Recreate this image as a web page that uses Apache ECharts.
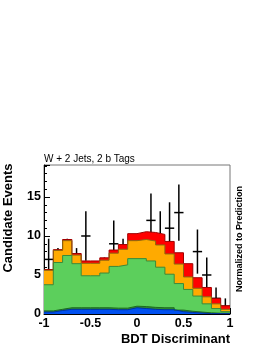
<!DOCTYPE html>
<html>
<head>
<meta charset="utf-8">
<script src="https://cdn.jsdelivr.net/npm/echarts@6/dist/echarts.min.js"></script>
<style>
html,body{margin:0;padding:0;background:#fff;}
#chart{width:270px;height:349px;}
</style>
</head>
<body>
<div id="chart"></div>
<script>
// Bin edges of the BDT discriminant histogram
const binEdges = [-1,-0.9,-0.8,-0.7,-0.6,-0.5,-0.4,-0.3,-0.2,-0.1,0,0.1,0.2,0.3,0.4,0.5,0.6,0.7,0.8,0.9,1];
const xTickLabels = ['-1','-0.5','0','0.5','1'];
const yTickLabels = ['0','5','10','15'];

// Stacked prediction components (per bin), bottom to top
const blueComp      = [0.25,0.45,0.6,0.6,0.6,0.6,0.6,0.55,0.55,0.8,0.7,0.6,0.55,0.55,0.3,0.2,0.12,0.05,0.05,0.05];
const darkGreenComp = [0.15,0.15,0.2,0.2,0.2,0.2,0.2,0.2,0.2,0.2,0.25,0.25,0.25,0.25,0.2,0.15,0.13,0.1,0.05,0.05];
const greenComp     = [3.35,6.0,6.7,5.65,4.1,4.1,4.45,5.35,5.55,6.1,6.15,5.95,5.2,4.3,3.4,2.8,2.05,1.15,0.6,0.2];
const orangeComp    = [1.85,1.55,1.9,1.1,1.6,1.6,1.65,1.7,2.0,2.3,2.45,2.55,2.85,2.6,2.5,1.6,1.0,0.9,0.6,0.3];
const redComp       = [0.1,0.1,0.15,0.2,0.3,0.3,0.3,0.4,0.6,0.9,1.0,1.1,1.35,1.6,1.45,1.7,1.35,1.2,0.7,0.45];

// Observed data and errors
const dataCounts = [7,6,7,6,10,4,5,9,7,6,7,12,10,11,13,3,8,5,2,1];
const dataErr    = [2.65,2.45,2.65,2.45,3.16,2.0,2.24,3.0,2.65,2.45,2.65,3.46,3.16,3.32,3.61,1.73,2.83,2.24,1.41,1.0];

const layers = [
  {vals: blueComp,      fill:'#0050f0', line:'#0030a0'},
  {vals: darkGreenComp, fill:'#2e8b2e', line:'#1f6a1f'},
  {vals: greenComp,     fill:'#5ccf5c', line:'#3a8a3a'},
  {vals: orangeComp,    fill:'#ffaa00', line:'#8a6a10'},
  {vals: redComp,       fill:'#ff0000', line:'#a00000'}
];
// cumulative tops
const cum = [];
let running = new Array(binEdges.length - 1).fill(0);
layers.forEach(l => {
  running = running.map((v, i) => v + l.vals[i]);
  cum.push(running.slice());
});

const stepSeries = [];
for (let k = layers.length - 1; k >= 0; k--) {
  const tops = cum[k];
  const pts = tops.map((v, i) => [binEdges[i], v]);
  pts.push([binEdges[binEdges.length - 1], tops[tops.length - 1]]);
  stepSeries.push({
    type: 'line', step: 'end', data: pts, symbol: 'none',
    xAxisIndex: 0, yAxisIndex: 0,
    lineStyle: {color: layers[k].line, width: 1},
    areaStyle: {color: layers[k].fill, opacity: 1, origin: 'start'},
    silent: true, animation: false
  });
}

const dataSeries = {
  type: 'custom', xAxisIndex: 0, yAxisIndex: 0, animation: false, silent: true,
  data: dataCounts.map((v, i) => [binEdges[i], binEdges[i + 1], v, dataErr[i]]),
  encode: {x: [0, 1], y: [2]},
  renderItem: function (params, api) {
    const lo = api.value(0), hi = api.value(1), v = api.value(2), e = api.value(3);
    const mid = (lo + hi) / 2;
    const a = api.coord([lo, v]), b = api.coord([hi, v]);
    const t = api.coord([mid, v + e]), d = api.coord([mid, Math.max(0, v - e)]);
    const st = {stroke: '#000', lineWidth: 1.5};
    return {type: 'group', children: [
      {type: 'line', shape: {x1: a[0], y1: a[1], x2: b[0], y2: b[1]}, style: st},
      {type: 'line', shape: {x1: t[0], y1: t[1], x2: d[0], y2: d[1]}, style: st}
    ]};
  }
};

const font = 'Liberation Sans, Arial, Helvetica, sans-serif';
const chart = echarts.init(document.getElementById('chart'));
chart.setOption({
  animation: false,
  backgroundColor: '#fff',
  grid: {left: 44, top: 165, right: 40, bottom: 35, show: true, borderColor: '#777', borderWidth: 1, backgroundColor: 'transparent'},
  xAxis: [
    {type: 'value', position: 'bottom', min: -1, max: 1, interval: 0.5,
     axisLine: {onZero: false, lineStyle: {color: '#000', width: 1}},
     axisTick: {inside: true, length: 6, lineStyle: {color: '#000'}},
     splitLine: {show: false},
     axisLabel: {color: '#000', fontFamily: font, fontWeight: 'bold', fontSize: 12.5, margin: 3,
       formatter: function (v) { const s = String(Math.round(v * 10) / 10); return xTickLabels.indexOf(s) >= 0 ? s : ''; }}},
    {type: 'value', position: 'bottom', min: -1, max: 1, interval: 0.1,
     axisLine: {show: false, onZero: false}, axisLabel: {show: false}, splitLine: {show: false},
     axisTick: {inside: true, length: 3, lineStyle: {color: '#000'}}}
  ],
  yAxis: [
    {type: 'value', position: 'left', min: 0, max: 19.1, interval: 5,
     axisLine: {show: true, onZero: false, lineStyle: {color: '#000', width: 1}},
     axisTick: {show: true, inside: true, length: 6, lineStyle: {color: '#000'}},
     splitLine: {show: false},
     axisLabel: {color: '#000', fontFamily: font, fontWeight: 'bold', fontSize: 12.5, margin: 3,
       formatter: function (v) { const s = String(v); return yTickLabels.indexOf(s) >= 0 ? s : ''; }}},
    {type: 'value', position: 'left', min: 0, max: 19.1, interval: 1,
     axisLine: {show: false, onZero: false}, axisLabel: {show: false}, splitLine: {show: false},
     axisTick: {show: true, inside: true, length: 3, lineStyle: {color: '#000'}}}
  ],
  series: stepSeries.concat([dataSeries]),
  graphic: [
    {type: 'text', left: 44, top: 154, style: {text: 'W + 2 Jets, 2 b Tags', fill: '#000', font: '10px ' + font}},
    {type: 'text', x: 230, y: 339, style: {text: 'BDT Discriminant', fill: '#000', font: 'bold 13px ' + font, align: 'right', verticalAlign: 'middle'}},
    {type: 'text', x: 8, y: 218, rotation: Math.PI / 2, style: {text: 'Candidate Events', fill: '#000', font: 'bold 13px ' + font, align: 'center', verticalAlign: 'middle'}},
    {type: 'text', x: 240, y: 239, rotation: Math.PI / 2, style: {text: 'Normalized to Prediction', fill: '#000', font: 'bold 9px ' + font, align: 'center', verticalAlign: 'middle'}}
  ]
});
</script>
</body>
</html>
